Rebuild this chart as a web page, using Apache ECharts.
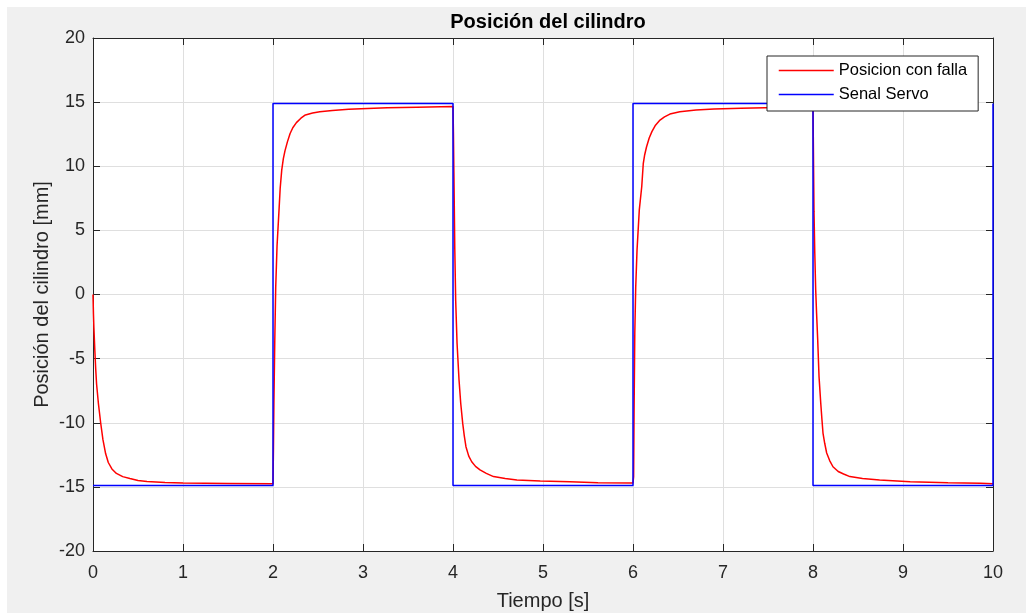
<!DOCTYPE html>
<html>
<head>
<meta charset="utf-8">
<script src="https://cdn.jsdelivr.net/npm/echarts@6/dist/echarts.min.js"></script>
<style>
  html, body { margin: 0; padding: 0; background: #ffffff; }
  #chart {
    width: 1026px; height: 613px;
    background:
      linear-gradient(#ffffff, #ffffff) left top / 100% 7px no-repeat,
      linear-gradient(#ffffff, #ffffff) left top / 7px 100% no-repeat,
      #f0f0f0;
  }
</style>
</head>
<body>
<div id="chart"></div>
<script>
// ---- data ----
const titleText = 'Posición del cilindro';
const xName = 'Tiempo [s]';
const yName = 'Posición del cilindro [mm]';
const seriesNames = ['Posicion con falla', 'Senal Servo'];

const xTicks = [0, 1, 2, 3, 4, 5, 6, 7, 8, 9, 10];
const yTicks = [-20, -15, -10, -5, 0, 5, 10, 15, 20];

// Servo reference signal (square wave)
const servoTime  = [0, 2, 2, 4, 4, 6, 6, 8, 8, 10, 10];
const servoValue = [-14.9, -14.9, 14.9, 14.9, -14.9, -14.9, 14.9, 14.9, -14.9, -14.9, 14.9];

// Cylinder position with fault
const posTime = [
  0, 0.005, 0.01, 0.02, 0.03, 0.04, 0.06, 0.085, 0.11, 0.14, 0.17, 0.21, 0.26, 0.33, 0.41, 0.5, 0.6, 0.8, 1.0, 1.5, 2.0,
  2.005, 2.01, 2.02, 2.03, 2.045, 2.067, 2.08, 2.097, 2.115, 2.133, 2.16, 2.19, 2.22, 2.26, 2.31, 2.36, 2.44, 2.52, 2.66, 2.84, 3.05, 3.27, 3.6, 4.0,
  4.005, 4.01, 4.02, 4.03, 4.045, 4.067, 4.086, 4.108, 4.125, 4.144, 4.175, 4.208, 4.25, 4.3, 4.37, 4.45, 4.58, 4.71, 4.97, 5.3, 5.61, 6.0,
  6.007, 6.012, 6.02, 6.03, 6.045, 6.07, 6.097, 6.114, 6.13, 6.15, 6.18, 6.21, 6.25, 6.3, 6.35, 6.41, 6.52, 6.7, 6.9, 7.2, 7.6, 8.0,
  8.005, 8.011, 8.02, 8.03, 8.04, 8.052, 8.067, 8.086, 8.1, 8.111, 8.13, 8.152, 8.185, 8.222, 8.28, 8.34, 8.41, 8.55, 8.74, 9.08, 9.5, 9.86, 10.0
];
const posValue = [
  0, -1.5, -2.6, -4.3, -5.8, -7.0, -8.5, -10.0, -11.3, -12.4, -13.1, -13.6, -13.95, -14.2, -14.35, -14.5, -14.58, -14.65, -14.7, -14.73, -14.75,
  -12.0, -8.5, -3.5, 0.5, 3.8, 6.6, 8.3, 9.7, 10.6, 11.2, 11.9, 12.55, 13.0, 13.4, 13.75, 14.0, 14.15, 14.25, 14.35, 14.44, 14.5, 14.56, 14.6, 14.65,
  12.5, 9.5, 3.5, -0.5, -3.8, -6.67, -8.5, -10.05, -11.0, -11.87, -12.6, -13.04, -13.4, -13.68, -13.95, -14.2, -14.35, -14.46, -14.54, -14.6, -14.67, -14.7,
  -14.2, -9.0, -3.0, 0.5, 3.5, 6.6, 8.4, 10.2, 10.9, 11.5, 12.2, 12.7, 13.2, 13.6, 13.85, 14.07, 14.25, 14.38, 14.46, 14.53, 14.58, 14.62,
  11.0, 6.5, 3.2, 0.35, -1.5, -3.5, -6.4, -8.46, -9.8, -10.8, -11.6, -12.36, -12.95, -13.43, -13.8, -14.0, -14.2, -14.35, -14.46, -14.6, -14.68, -14.72, -14.75
];

// ---- chart ----
const FONT = '"Liberation Sans", Arial, Helvetica, sans-serif';
const AX = '#262626';
const chart = echarts.init(document.getElementById('chart'), null, { renderer: 'canvas' });

const baseX = {
  type: 'value', min: xTicks[0], max: xTicks[xTicks.length - 1], interval: 1
};
const baseY = {
  type: 'value', min: yTicks[0], max: yTicks[yTicks.length - 1], interval: 5
};

chart.setOption({
  backgroundColor: 'transparent',
  animation: false,
  title: {
    text: titleText,
    left: 543, top: 6, textAlign: 'center',
    textStyle: { fontFamily: FONT, fontSize: 20, fontWeight: 'bold', color: '#000', lineHeight: 22 }
  },
  grid: {
    left: 93, right: 33, top: 38, bottom: 62,
    containLabel: false,
    outerBoundsMode: 'none',
    show: true, backgroundColor: '#ffffff', borderWidth: 0
  },
  legend: {
    orient: 'vertical',
    left: 767, top: 56,
    data: seriesNames,
    backgroundColor: '#ffffff',
    borderColor: AX, borderWidth: 1, borderRadius: 0,
    padding: [6, 11, 8, 11],
    itemWidth: 55, itemHeight: 16, itemGap: 7,
    itemStyle: { opacity: 0 },
    lineStyle: { width: 1.5 },
    textStyle: { fontFamily: FONT, fontSize: 16.5, color: '#000' }
  },
  xAxis: [
    Object.assign({}, baseX, {
      position: 'bottom',
      name: xName, nameLocation: 'middle', nameGap: 40, nameMoveOverlap: false,
      nameTextStyle: { fontFamily: FONT, fontSize: 20, color: AX },
      axisLine: { show: true, onZero: false, lineStyle: { color: AX, width: 1 } },
      axisTick: { show: true, inside: true, length: 7, lineStyle: { color: AX } },
      axisLabel: { show: true, margin: 13, fontFamily: FONT, fontSize: 18, color: AX,
                   formatter: v => String(v) },
      splitLine: { show: true, lineStyle: { color: '#dfdfdf', width: 1 } }
    }),
    Object.assign({}, baseX, {
      position: 'top',
      axisLine: { show: true, onZero: false, lineStyle: { color: AX, width: 1 } },
      axisTick: { show: true, inside: true, length: 7, lineStyle: { color: AX } },
      axisLabel: { show: false },
      splitLine: { show: false }
    })
  ],
  yAxis: [
    Object.assign({}, baseY, {
      position: 'left',
      name: yName, nameLocation: 'middle', nameGap: 41, nameRotate: 90, nameMoveOverlap: false,
      nameTextStyle: { fontFamily: FONT, fontSize: 20, color: AX },
      axisLine: { show: true, onZero: false, lineStyle: { color: AX, width: 1 } },
      axisTick: { show: true, inside: true, length: 7, lineStyle: { color: AX } },
      axisLabel: { show: true, margin: 8, fontFamily: FONT, fontSize: 18, color: AX,
                   formatter: v => String(v) },
      splitLine: { show: true, lineStyle: { color: '#dfdfdf', width: 1 } }
    }),
    Object.assign({}, baseY, {
      position: 'right',
      axisLine: { show: true, onZero: false, lineStyle: { color: AX, width: 1 } },
      axisTick: { show: true, inside: true, length: 7, lineStyle: { color: AX } },
      axisLabel: { show: false },
      splitLine: { show: false }
    })
  ],
  series: [
    {
      name: seriesNames[0], type: 'line',
      xAxisIndex: 0, yAxisIndex: 0,
      showSymbol: false, symbol: 'none',
      lineStyle: { color: '#ff0000', width: 1.5 },
      itemStyle: { color: '#ff0000' },
      data: posTime.map((t, i) => [t, posValue[i]])
    },
    {
      name: seriesNames[1], type: 'line',
      xAxisIndex: 0, yAxisIndex: 0,
      showSymbol: false, symbol: 'none',
      lineStyle: { color: '#0000ff', width: 1.5 },
      itemStyle: { color: '#0000ff' },
      data: servoTime.map((t, i) => [t, servoValue[i]])
    }
  ]
});
</script>
</body>
</html>
